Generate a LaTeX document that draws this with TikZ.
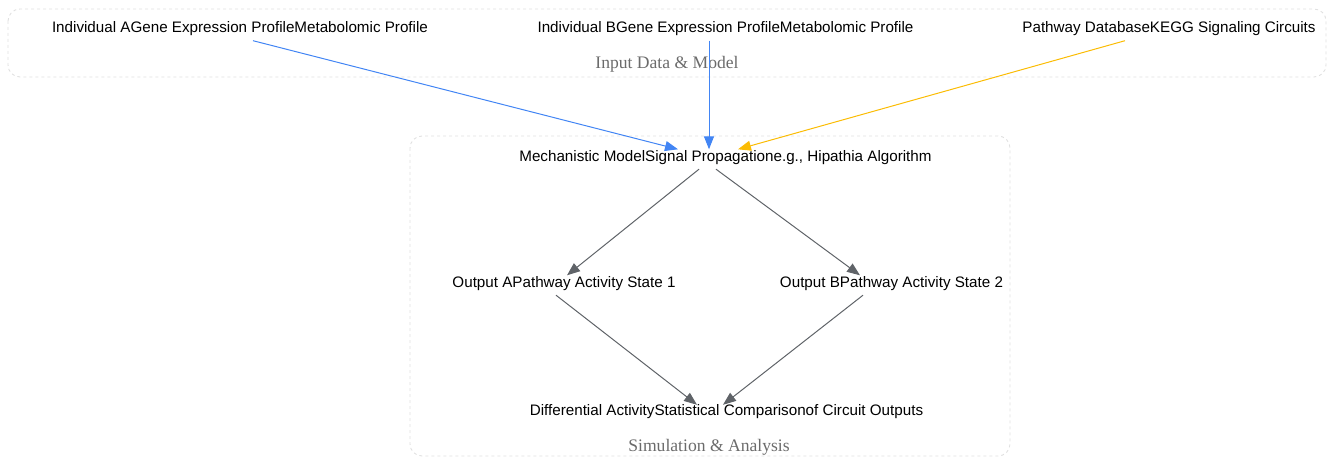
\documentclass[tikz,border=0pt]{standalone}
\usepackage{fontspec}
\setmainfont{Liberation Sans}
\newfontfamily\clusterfont{Liberation Serif}
\usetikzlibrary{arrows.meta}
\definecolor{eblue}{HTML}{4285F4}
\definecolor{eyellow}{HTML}{FBBC04}
\definecolor{egray}{HTML}{5F6368}
\definecolor{cborder}{HTML}{E0E0E0}
\definecolor{clabel}{HTML}{6B6B6B}
\tikzset{
  nd/.style={inner sep=0pt, minimum height=20pt, font=\fontsize{15.2}{17}\selectfont, text=black},
  cluster/.style={draw=cborder, dashed, rounded corners=12pt, line width=0.9pt},
  clab/.style={font=\clusterfont\fontsize{17.6}{19}\selectfont, text=clabel},
  edge/.style={-{Triangle[length=13pt,width=10pt]}, line width=1pt},
}
\begin{document}
\begin{tikzpicture}[x=1pt,y=-1pt]
\useasboundingbox (0,0) rectangle (1328,457);
% clusters
\draw[cluster] (8,9) rectangle (1326,77);
\draw[cluster] (410,136) rectangle (1010,456);
\node[clab] (l1) at (667,64.5) {Input Data \& Model};
\node[clab] (l2) at (709,447.5) {Simulation \& Analysis};
% nodes
\node[nd] (A) at (240,28.5) {Individual AGene Expression ProfileMetabolomic Profile};
\node[nd] (B) at (725.5,28.5) {Individual BGene Expression ProfileMetabolomic Profile};
\node[nd] (P) at (1169,28.5) {Pathway DatabaseKEGG Signaling Circuits};
\node[nd] (M) at (725.5,157.5) {Mechanistic ModelSignal Propagatione.g., Hipathia Algorithm};
\node[nd] (OA) at (564,283.5) {Output APathway Activity State 1};
\node[nd] (OB) at (891.5,283.5) {Output BPathway Activity State 2};
\node[nd] (D) at (726.5,411.5) {Differential ActivityStatistical Comparisonof Circuit Outputs};
% edges
\draw[edge, eblue] ([xshift=13pt,yshift=-2pt]A.south) -- ([xshift=-47.5pt,yshift=-2pt]M.north);
\draw[edge, eblue] ([xshift=-16.5pt,yshift=-2pt]B.south) -- ([xshift=-16.5pt,yshift=-2pt]M.north);
\draw[edge, eyellow] ([xshift=-44pt,yshift=-2pt]P.south) -- ([xshift=12.5pt,yshift=-2pt]M.north);
\draw[edge, egray] ([xshift=-26.5pt,yshift=-1.5pt]M.south) -- ([xshift=3pt,yshift=-2pt]OA.north);
\draw[edge, egray] ([xshift=-9.5pt,yshift=-1.5pt]M.south) -- ([xshift=-31.5pt,yshift=-2pt]OB.north);
\draw[edge, egray] ([xshift=-8pt,yshift=-1.5pt]OA.south) -- ([xshift=-29.5pt,yshift=-3.5pt]D.north);
\draw[edge, egray] ([xshift=-28.5pt,yshift=-1.5pt]OB.south) -- ([xshift=-3.5pt,yshift=-3.5pt]D.north);
\end{tikzpicture}
\end{document}
